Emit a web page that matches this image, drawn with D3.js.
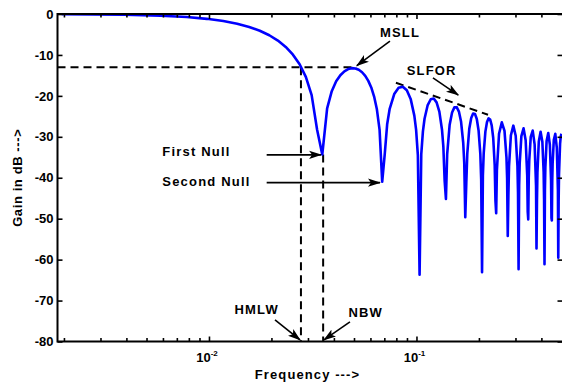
<!DOCTYPE html>
<html>
<head>
<meta charset="utf-8">
<script src="https://cdn.jsdelivr.net/npm/d3@7"></script>
<style>
  body { margin: 0; background: #fff; }
  svg { display: block; font-family: "Liberation Sans", Arial, Helvetica, sans-serif; font-weight: bold; }
</style>
</head>
<body>
<svg id="chart" width="562" height="383"></svg>
<script>
// spectrum samples: FFT bin index (of 512) and gain in dB
const fftSize = 512;
const bins = [1, 2, 3, 4, 5, 6, 7, 8, 9, 10, 11, 12, 13, 14, 15, 16, 17,
  18, 19, 20, 21, 22, 23, 24, 25, 26, 27, 28, 29, 30, 31, 32, 33, 34,
  35, 36, 37, 38, 40, 42, 44, 46, 48, 50, 51, 52,
  53, 54, 55, 56, 58, 60, 62, 64, 66, 68, 69, 70,
  71, 72, 74, 76, 78, 80, 82, 84, 86, 87,
  88, 89, 90, 92, 94, 96, 98, 100, 102, 104, 105,
  106, 107, 108, 110, 112, 114, 116, 118, 120, 122, 123,
  124, 125, 128, 132, 136, 139, 140,
  141, 142, 143, 146, 150, 154, 157, 158,
  159, 160, 161, 164, 168, 172, 175, 176,
  177, 178, 179, 182, 186, 190, 193,
  194, 195, 196, 199, 203, 207, 210, 211,
  212, 213, 214, 217, 221, 225, 228, 229,
  230, 231, 232, 235, 239, 243, 246,
  247, 248, 249, 252, 254, 256];
const gainDb = [-0.05, -0.18, -0.42, -0.75, -1.18, -1.72, -2.37, -3.16, -4.09, -5.19, -6.49, -8.05, -9.93, -12.27, -15.35, -19.82, -28.28,
  -34.33, -23.07, -18.85, -16.45, -14.95, -14.0, -13.45, -13.23, -13.3, -13.63, -14.23, -15.11, -16.33, -17.95, -20.17, -23.29, -28.3,
  -40.99, -34.3, -26.86, -23.26, -19.56, -18.02, -17.77, -18.63, -20.74, -24.82, -28.31, -34.52,
  -63.7, -34.24, -28.66, -25.58, -22.24, -20.82, -20.65, -21.59, -23.86, -28.35, -32.41, -40.8,
  -45.18, -34.15, -27.04, -24.05, -22.8, -22.76, -23.84, -26.33, -31.39, -36.33,
  -49.64, -41.36, -34.04, -28.03, -25.38, -24.31, -24.41, -25.66, -28.44, -34.2, -40.49,
  -63.1, -39.42, -33.9, -28.74, -26.39, -25.5, -25.76, -27.21, -30.29, -37.0, -45.63,
  -48.67, -38.15, -29.25, -26.47, -28.55, -35.01, -40.03,
  -54.23, -44.33, -37.2, -29.61, -27.27, -29.75, -37.14, -43.57,
  -62.35, -41.83, -36.41, -29.85, -27.93, -30.85, -39.41, -48.36,
  -50.16, -40.08, -35.73, -30.0, -28.48, -31.86, -42.02,
  -57.28, -45.64, -38.71, -31.16, -28.78, -31.22, -38.66, -45.24,
  -61.12, -42.86, -37.55, -31.02, -29.06, -31.95, -40.58, -49.85,
  -50.45, -40.81, -36.53, -30.81, -29.26, -32.62, -42.95,
  -59.52, -45.88, -39.14, -31.66, -29.81, -29.25];

const yTicks = [0, -10, -20, -30, -40, -50, -60, -70, -80];
const xMajorTicks = [0.01, 0.1];
const xMajorExponents = ["-2", "-1"];
const xMinorTicks = [0.002, 0.003, 0.004, 0.005, 0.006, 0.007, 0.008, 0.009,
  0.02, 0.03, 0.04, 0.05, 0.06, 0.07, 0.08, 0.09, 0.2, 0.3, 0.4];

// reference markers (frequency, dB)
const msllDb = -13;
const msllFreq = 0.0515;
const hmlwFreq = 0.02775;
const nbwFreq = 0.0355;
const firstNullDb = -34.3;
const slforLine = [[0.0796, -16.8], [0.2212, -24.6]];

// annotations: label, anchor, label position, arrow start, arrow tip
const annotations = [
  { text: "MSLL", anchor: "middle", at: [0.0833, -5.7], from: [0.0745, -6.6], to: [0.0516, -12.6] },
  { text: "SLFOR", anchor: "middle", at: [0.1184, -14.9], from: [0.1201, -15.6], to: [0.159, -19.8] },
  { text: "First Null", anchor: "start", at: [0.005956, -34.8], from: [0.01897, -34.4], to: [0.0347, -34.4] },
  { text: "Second Null", anchor: "start", at: [0.005956, -42.1], from: [0.01897, -41.2], to: [0.0667, -41.2] },
  { text: "HMLW", anchor: "middle", at: [0.01698, -73.3], from: [0.0208, -74.7], to: [0.02746, -79.6] },
  { text: "NBW", anchor: "middle", at: [0.05697, -74.1], from: [0.0478, -75.2], to: [0.03583, -79.6] }
];

const svg = d3.select("#chart");
const plot = { left: 57.5, right: 561.5, top: 14, bottom: 341.5 };

const x = d3.scaleLog().domain([0.001862, 0.5]).range([plot.left, plot.right]);
const y = d3.scaleLinear().domain([-80, 0]).range([plot.bottom, plot.top]);

const points = bins.map((b, i) => ({ f: b / fftSize, g: gainDb[i] }));

// dashed guide lines
const dashed = svg.append("g")
  .attr("fill", "none")
  .attr("stroke", "#000")
  .attr("stroke-width", 2)
  .attr("stroke-dasharray", "8,5");

dashed.append("line")
  .attr("x1", plot.left).attr("x2", x(msllFreq))
  .attr("y1", y(msllDb)).attr("y2", y(msllDb));
dashed.append("line")
  .attr("x1", x(hmlwFreq)).attr("x2", x(hmlwFreq))
  .attr("y1", y(msllDb)).attr("y2", plot.bottom);
dashed.append("line")
  .attr("x1", x(nbwFreq)).attr("x2", x(nbwFreq))
  .attr("y1", y(firstNullDb)).attr("y2", plot.bottom);
dashed.append("line")
  .attr("x1", x(slforLine[0][0])).attr("y1", y(slforLine[0][1]))
  .attr("x2", x(slforLine[1][0])).attr("y2", y(slforLine[1][1]));

// gain curve
const line = d3.line().x(d => x(d.f)).y(d => y(d.g));
svg.append("path")
  .datum(points)
  .attr("fill", "none")
  .attr("stroke", "#0000ff")
  .attr("stroke-width", 2.6)
  .attr("stroke-linejoin", "round")
  .attr("d", line);

// axes (ticks pointing inward)
const styleAxis = g => {
  g.select(".domain").remove();
  g.selectAll(".tick line").attr("stroke", "#000").attr("stroke-width", 1.6);
  g.attr("font-family", null).attr("font-size", null);
};

svg.append("g")
  .attr("transform", `translate(${plot.left},0)`)
  .call(d3.axisLeft(y).tickValues(yTicks).tickSize(-5).tickPadding(4).tickFormat(d => String(d)))
  .call(styleAxis)
  .selectAll("text")
  .attr("font-size", 13)
  .attr("fill", "#000");

svg.append("g")
  .attr("transform", `translate(${plot.right + 1},0)`)
  .call(d3.axisRight(y).tickValues(yTicks).tickSize(-5).tickFormat(""))
  .call(styleAxis);

[[d3.axisBottom, plot.bottom], [d3.axisTop, plot.top]].forEach(([axisFn, yPos]) => {
  svg.append("g")
    .attr("transform", `translate(0,${yPos})`)
    .call(axisFn(x).tickValues(xMinorTicks).tickSize(-3.5).tickFormat(""))
    .call(styleAxis);
  svg.append("g")
    .attr("transform", `translate(0,${yPos})`)
    .call(axisFn(x).tickValues(xMajorTicks).tickSize(-5).tickFormat(""))
    .call(styleAxis);
});

// decade labels with superscript
const decade = svg.append("g").attr("fill", "#000");
xMajorTicks.forEach((v, i) => {
  const t = decade.append("text")
    .attr("x", x(v) - 2)
    .attr("y", plot.bottom + 20)
    .attr("text-anchor", "middle")
    .attr("font-size", 13);
  t.append("tspan").text("10");
  t.append("tspan").attr("font-size", 8).attr("dy", -6).text(xMajorExponents[i]);
});

// frame
svg.append("path")
  .attr("fill", "none")
  .attr("stroke", "#000")
  .attr("stroke-width", 2)
  .attr("d", `M${plot.right + 1},${plot.top}H${plot.left}V${plot.bottom}H${plot.right + 1}`);

// annotations
svg.append("defs").append("marker")
  .attr("id", "head")
  .attr("viewBox", "0 -4.5 13 9")
  .attr("refX", 12)
  .attr("refY", 0)
  .attr("markerUnits", "userSpaceOnUse")
  .attr("markerWidth", 13)
  .attr("markerHeight", 9)
  .attr("orient", "auto")
  .append("path")
  .attr("d", "M0,-4.2L13,0L0,4.2L3,0Z")
  .attr("fill", "#000");

const notes = svg.append("g");
notes.selectAll("line")
  .data(annotations)
  .join("line")
  .attr("x1", d => x(d.from[0])).attr("y1", d => y(d.from[1]))
  .attr("x2", d => x(d.to[0])).attr("y2", d => y(d.to[1]))
  .attr("stroke", "#000")
  .attr("stroke-width", 1.6)
  .attr("marker-end", "url(#head)");

notes.selectAll("text")
  .data(annotations)
  .join("text")
  .attr("x", d => x(d.at[0]))
  .attr("y", d => y(d.at[1]))
  .attr("text-anchor", d => d.anchor)
  .attr("font-size", 13)
  .attr("letter-spacing", 1.2)
  .text(d => d.text);

// axis titles
svg.append("text")
  .attr("x", (plot.left + plot.right) / 2 - 2)
  .attr("y", 379)
  .attr("text-anchor", "middle")
  .attr("font-size", 13)
  .attr("letter-spacing", 1.1)
  .text("Frequency --->");

svg.append("text")
  .attr("transform", `translate(21.5,${(plot.top + plot.bottom) / 2}) rotate(-90)`)
  .attr("text-anchor", "middle")
  .attr("font-size", 13)
  .attr("letter-spacing", 0.6)
  .text("Gain in dB --->");
</script>
</body>
</html>
